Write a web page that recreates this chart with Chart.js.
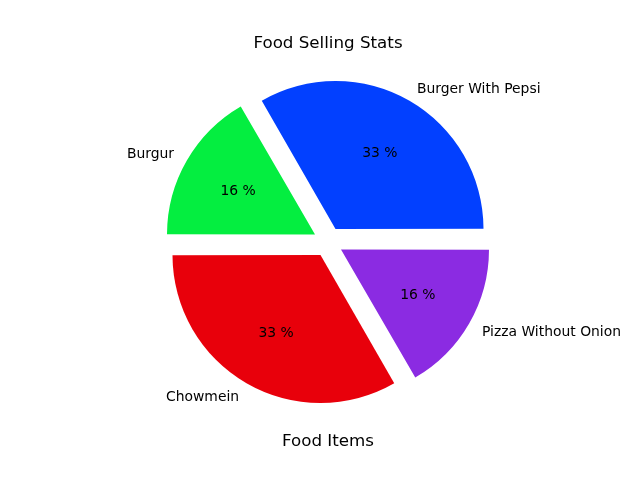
<!DOCTYPE html>
<html>
<head>
<meta charset="utf-8">
<script src="https://cdn.jsdelivr.net/npm/chart.js@4/dist/chart.umd.min.js"></script>
<style>
html,body{margin:0;padding:0;background:#fff;}
#wrap{width:640px;height:480px;}
</style>
</head>
<body>
<div id="wrap"><canvas id="c" width="640" height="480"></canvas></div>
<script>
const categories = ['Burger With Pepsi', 'Burgur', 'Chowmein', 'Pizza Without Onion'];
const values = [2, 1, 2, 1];
const colors = ['#0240ff', '#04ee40', '#e8000b', '#8b2be2'];
const titleText = 'Food Selling Stats';
const xLabelText = 'Food Items';

// matplotlib draws counter-clockwise from 3 o'clock; Chart.js draws clockwise,
// so feed reversed order starting at 3 o'clock.
const order = categories.map((_, i) => i).reverse();
const total = values.reduce((a, b) => a + b, 0);

const EXPLODE = 60; // Chart.js divides offset by 4 -> ~15px
const R = 146;
const FONT = 'DejaVu Sans';

const labelPlugin = {
  id: 'mplLabels',
  afterDatasetsDraw(chart) {
    const ctx = chart.ctx;
    const meta = chart.getDatasetMeta(0);
    ctx.save();
    ctx.fillStyle = '#000';
    ctx.font = '13.9px "' + FONT + '"';
    ctx.textBaseline = 'middle';
    meta.data.forEach((arc, i) => {
      const p = arc.getProps(['x', 'y', 'startAngle', 'endAngle', 'outerRadius', 'circumference'], true);
      const mid = (p.startAngle + p.endAngle) / 2;
      const off = (arc.options.offset || 0) / 4;
      const fix = 1 - Math.sin(Math.min(Math.PI, p.circumference || 0));
      const cx = p.x + Math.cos(mid) * off;
      const cy = p.y + Math.sin(mid) * off;
      const r = p.outerRadius + off * fix;
      const idx = order[i];
      const lx = cx + Math.cos(mid) * r * 1.1;
      const ly = cy + Math.sin(mid) * r * 1.1 + 1;
      ctx.textAlign = Math.cos(mid) > 0 ? 'left' : 'right';
      ctx.fillText(categories[idx], lx, ly);
      const px = cx + Math.cos(mid) * r * 0.6;
      const py = cy + Math.sin(mid) * r * 0.6 + 1;
      ctx.textAlign = 'center';
      const pct = Math.floor(values[idx] / total * 100);
      ctx.fillText(pct + ' %', px, py);
    });
    ctx.restore();
  }
};

new Chart(document.getElementById('c'), {
  type: 'pie',
  data: {
    labels: order.map(i => categories[i]),
    datasets: [{
      data: order.map(i => values[i]),
      backgroundColor: order.map(i => colors[i]),
      borderWidth: 0,
      offset: EXPLODE,
      hoverOffset: EXPLODE
    }]
  },
  options: {
    responsive: false,
    animation: false,
    devicePixelRatio: 1,
    rotation: 90,
    radius: R,
    layout: { padding: { left: 16, right: 0, top: 0, bottom: 0 } },
    plugins: {
      legend: { display: false },
      tooltip: { enabled: false },
      title: {
        display: true,
        text: titleText,
        color: '#000',
        font: { family: FONT, size: 16.7, weight: 'normal', lineHeight: 1.2 },
        padding: { top: 34, bottom: 0 }
      },
      subtitle: {
        display: true,
        position: 'bottom',
        text: xLabelText,
        color: '#000',
        font: { family: FONT, size: 16.7, weight: 'normal', lineHeight: 1.2 },
        padding: { top: 2, bottom: 28 }
      }
    }
  },
  plugins: [labelPlugin]
});
</script>
</body>
</html>
